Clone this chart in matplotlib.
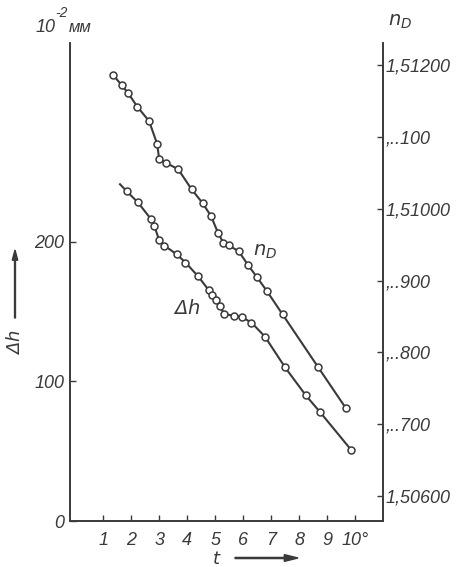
import matplotlib.pyplot as plt

# Temperature t (degrees) and refractive index n_D
t_nd = [1.36, 1.66, 1.89, 2.22, 2.64, 2.93, 3.00, 3.24, 3.68, 4.16, 4.55,
        4.85, 5.11, 5.29, 5.48, 5.84, 6.17, 6.49, 6.84, 7.41, 8.69, 9.68]
n_d = [1.51186, 1.51172, 1.51161, 1.51142, 1.51122, 1.51090, 1.51069,
       1.51064, 1.51055, 1.51027, 1.51008, 1.50990, 1.50966, 1.50953,
       1.50949, 1.50941, 1.50922, 1.50905, 1.50886, 1.50853, 1.50779,
       1.50722]

# Temperature t and height change dh (10^-2 mm)
t_dh = [1.60, 1.84, 2.24, 2.71, 2.83, 3.00, 3.19, 3.62, 3.94, 4.40, 4.78,
        4.90, 5.04, 5.17, 5.32, 5.68, 5.95, 6.30, 6.78, 7.50, 8.24, 8.75,
        9.86]
dh = [241, 236, 228, 216, 211, 201, 197, 191, 185, 175, 165, 162, 158,
      154, 148, 147, 146, 142, 132, 110, 90, 78, 51]

x_ticks = [1, 2, 3, 4, 5, 6, 7, 8, 9, 10]
x_labels = ['1', '2', '3', '4', '5', '6', '7', '8', '9', '10°']
left_ticks = [0, 100, 200]
left_labels = ['0', '100', '200']
right_ticks = [1.50600, 1.50700, 1.50800, 1.50900, 1.51000, 1.51100, 1.51200]
right_labels = ['1,50600', ',..700', ',..800', ',..900', '1,51000', ',..100', '1,51200']

ink = '#3a3a3a'
plt.rcParams['font.family'] = ['Liberation Sans Narrow', 'Liberation Sans', 'DejaVu Sans']
plt.rcParams['font.style'] = 'italic'

fig = plt.figure(figsize=(4.57, 5.67), dpi=100)
ax = fig.add_axes([0.153, 0.081, 0.685, 0.843])
ax2 = ax.twinx()

# Curves
line_kw = dict(color=ink, lw=1.5, marker='o', ms=5, mfc='white', mec=ink, mew=1.1)
ax2.plot(t_nd, n_d, **line_kw)
ax.plot(t_dh, dh, markevery=list(range(1, len(dh))), **line_kw)

# Axes limits
ax.set_xlim(-0.19, 11.0)
ax.set_ylim(0, 342)
ax2.set_ylim(1.505652, 1.512306)

for a in (ax, ax2):
    a.spines['top'].set_visible(False)
    for s in a.spines.values():
        s.set_color(ink)
        s.set_linewidth(1.2)

ax.set_xticks(x_ticks)
ax.set_xticklabels(x_labels)
ax.set_yticks(left_ticks)
ax.set_yticklabels(left_labels)
ax2.set_yticks(right_ticks)
ax2.set_yticklabels(right_labels)

ax.tick_params(axis='x', direction='in', length=4, width=1, colors=ink,
               labelsize=13, pad=8)
ax.tick_params(axis='y', direction='in', length=4, width=1, colors=ink,
               labelsize=13, pad=4)
ax2.tick_params(axis='y', direction='in', length=4, width=1, colors=ink,
                labelsize=13, pad=2)

# Axis titles and curve labels
fig.text(46 / 457, 1 - 27 / 567, '10', fontsize=13, color=ink, ha='center', va='center')
fig.text(61 / 457, 1 - 13 / 567, '-2', fontsize=10, color=ink, ha='center', va='center')
fig.text(80 / 457, 1 - 27 / 567, 'мм', fontsize=12, color=ink, ha='center', va='center')
fig.text(400 / 457, 1 - 22 / 567, r'$n_D$', fontsize=14, color=ink, ha='center', va='center')

fig.text(15 / 457, 1 - 342 / 567, r'$\Delta h$', fontsize=13, color=ink,
         rotation=90, ha='center', va='center')
fig.patches.append(plt.matplotlib.patches.FancyArrow(
    15 / 457, 1 - 318 / 567, 0, 68 / 567, width=0.002, head_width=0.012,
    head_length=0.018, length_includes_head=True, color=ink,
    transform=fig.transFigure, figure=fig))

fig.text(217 / 457, 1 - 559 / 567, r'$t$', fontsize=13, color=ink, ha='center', va='center')
fig.patches.append(plt.matplotlib.patches.FancyArrow(
    235 / 457, 1 - 558 / 567, 63 / 457, 0, width=0.002, head_width=0.012,
    head_length=0.03, length_includes_head=True, color=ink,
    transform=fig.transFigure, figure=fig))

fig.text(265 / 457, 1 - 252 / 567, r'$n_D$', fontsize=14, color=ink, ha='center', va='center')
fig.text(187 / 457, 1 - 309 / 567, r'$\Delta h$', fontsize=14, color=ink, ha='center', va='center')

plt.savefig('out.png', dpi=100, facecolor='white')
